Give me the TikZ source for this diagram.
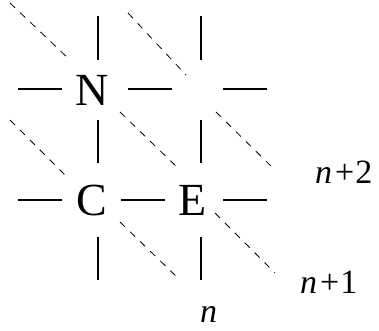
\documentclass[tikz,border=0pt]{standalone}
\usepackage{fontspec}
\setmainfont{Liberation Serif}
\begin{document}
\begin{tikzpicture}[x=1pt,y=-1pt,
  solidseg/.style={line width=1.1pt,black},
  dashseg/.style={line width=0.8pt,black,dash pattern=on 7pt off 7pt},
  letter/.style={inner sep=0pt,font=\fontsize{46}{54}\selectfont},
  lab/.style={inner sep=0pt,anchor=base west,font=\fontsize{34}{40}\selectfont}]
\useasboundingbox (0,0) rectangle (379,330);
% letters
\node[letter] (N) at (92,90) {N};
\node[letter] (C) at (92,200) {C};
\node[letter] (E) at (193,200) {E};
% vertical segments
\foreach \x in {98,201}{
  \draw[solidseg] (\x,16) -- (\x,60);
  \draw[solidseg] (\x,120) -- (\x,163);
  \draw[solidseg] (\x,237) -- (\x,280);
}
% horizontal segments
\draw[solidseg] (18,89) -- (62,89);
\draw[solidseg] (128,89) -- (172,89);
\draw[solidseg] (223,89) -- (267,89);
\draw[solidseg] (18,200) -- (62,200);
\draw[solidseg] (121,200) -- (165,200);
\draw[solidseg] (223,200) -- (267,200);
% dashed diagonals
\draw[dashseg] (10,3) -- (70,60);
\draw[dashseg] (120,112) -- (180,170);
\draw[dashseg] (215,213) -- (275,273);
\draw[dashseg] (128,13) -- (186,75);
\draw[dashseg] (216,112) -- (275,170);
\draw[dashseg] (10,120) -- (68,178);
\draw[dashseg] (120,222) -- (180,280);
% labels
\node[lab] (l2) at (315,183) {\textit{n}\kern3pt+\kern1pt2};
\node[lab] (l1) at (300,293) {\textit{n}\kern3pt+\kern1pt1};
\node[lab] (l0) at (200,322) {\textit{n}};
\end{tikzpicture}
\end{document}
